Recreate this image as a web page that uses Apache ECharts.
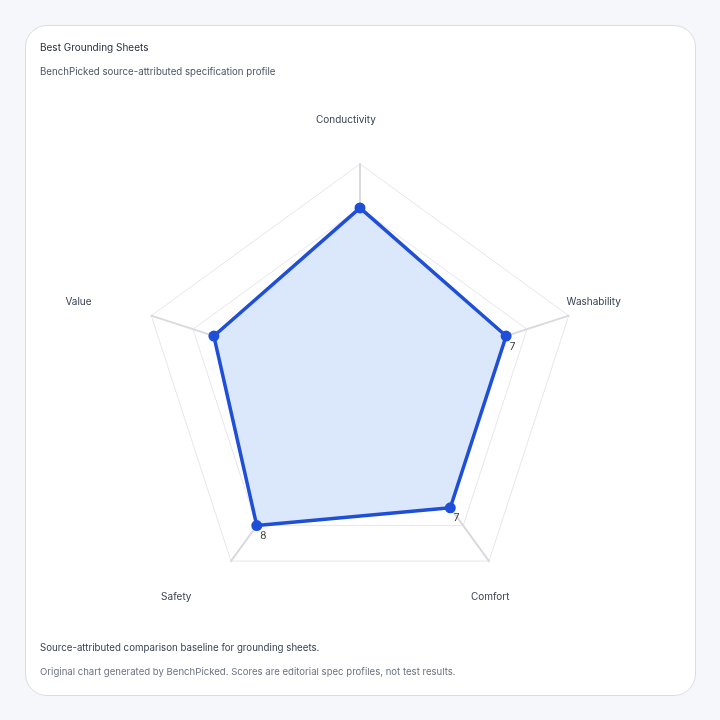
<!DOCTYPE html>
<html>
<head>
<meta charset="utf-8">
<script src="https://cdn.jsdelivr.net/npm/echarts@6/dist/echarts.min.js"></script>
<style>
  html, body { margin: 0; padding: 0; background: #f5f7fb; }
  #card { position: absolute; left: 25px; top: 25px; width: 671px; height: 671px; border: 1.5px solid #d8dde8; border-radius: 22px; background: #ffffff; box-sizing: border-box; }
  #chart { position: absolute; left: 0; top: 0; width: 720px; height: 720px; }
</style>
</head>
<body>
<div id="card"></div>
<div id="chart"></div>
<script>
const titleText = 'Best Grounding Sheets';
const subtitleText = 'BenchPicked source-attributed specification profile';
const footerNote = 'Source-attributed comparison baseline for grounding sheets.';
const footerCredit = 'Original chart generated by BenchPicked. Scores are editorial spec profiles, not test results.';

// Axes listed in the order ECharts lays them out (counter-clockwise from the top)
const axes = ['Conductivity', 'Value', 'Safety', 'Comfort', 'Washability'];
const axisMax = [10, 10, 10, 10, 10];
const scores = [8, 7, 8, 7, 7];
const labeledAxes = ['Washability', 'Comfort', 'Safety'];

const chart = echarts.init(document.getElementById('chart'), null, { renderer: 'canvas' });
const FONT = 'Inter, "Liberation Sans", sans-serif';
let labelCounter = 0;

const titleStyle = (color, size) => ({ fontFamily: FONT, fontSize: size, fontWeight: 'normal', color: color });

chart.setOption({
  animation: false,
  backgroundColor: 'transparent',
  title: [
    { text: titleText, left: 40, top: 43, padding: 0, textStyle: titleStyle('#1f2937', 10) },
    { text: subtitleText, left: 40, top: 67, padding: 0, textStyle: titleStyle('#4b5563', 9.7) },
    { text: footerNote, left: 40, top: 643, padding: 0, textStyle: titleStyle('#374151', 9.7) },
    { text: footerCredit, left: 40, top: 667, padding: 0, textStyle: titleStyle('#6b7280', 9.6) }
  ],
  radar: {
    center: [360, 383.5],
    radius: 219.5,
    startAngle: 90,
    splitNumber: 5,
    shape: 'polygon',
    indicator: axes.map((a, i) => ({ name: a, max: axisMax[i], min: 0 })),
    axisNameGap: 44,
    axisName: {
      color: '#374151',
      fontFamily: FONT,
      fontSize: 10,
      align: 'left',
      verticalAlign: 'middle',
      padding: [0, 0, 0, -44]
    },
    splitArea: { show: false },
    splitLine: { lineStyle: { color: '#e5e7eb', width: 1 } },
    axisLine: { lineStyle: { color: '#d9dadd', width: 2 } }
  },
  series: [
    {
      type: 'radar',
      symbol: 'none',
      silent: true,
      lineStyle: { width: 0, opacity: 0 },
      areaStyle: { color: '#dbe7fb', opacity: 1 },
      label: { show: false },
      data: [{ name: titleText, value: scores }]
    },
    {
      type: 'radar',
      symbol: 'circle',
      symbolSize: 11,
      lineStyle: { color: '#1f4fd6', width: 3.5 },
      itemStyle: { color: '#1f4fd6' },
      label: {
        show: true,
        position: [9, 11],
        color: '#333333',
        fontFamily: FONT,
        fontSize: 10,
        formatter: function (p) {
          if (p.status && p.status !== 'normal') return '';
          const idx = labelCounter % axes.length;
          labelCounter++;
          return labeledAxes.indexOf(axes[idx]) >= 0 ? String(p.value) : '';
        }
      },
      data: [{ name: titleText, value: scores }]
    }
  ]
});
</script>
</body>
</html>
